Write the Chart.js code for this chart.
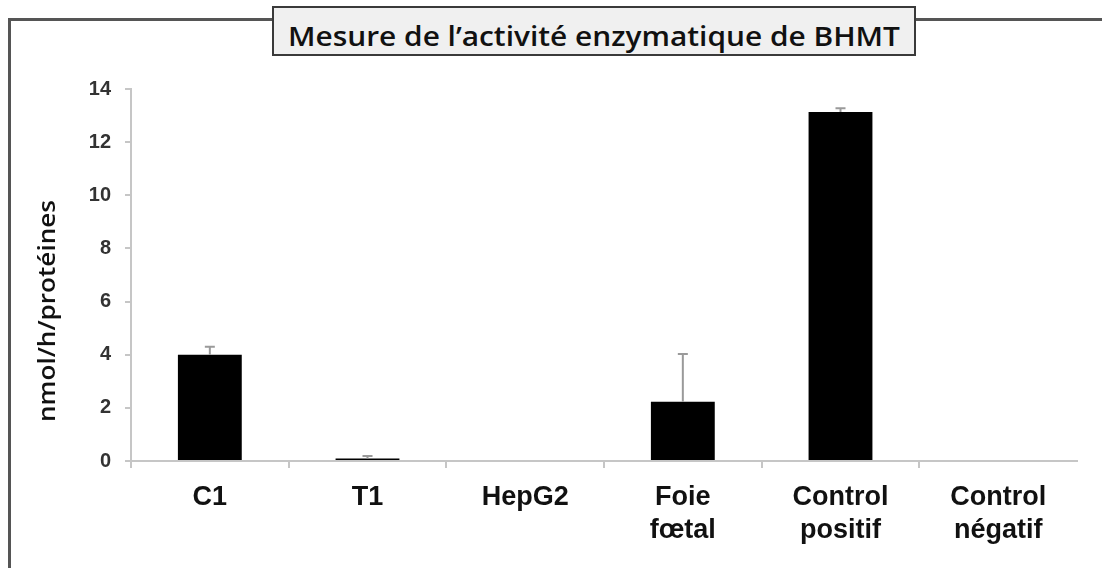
<!DOCTYPE html>
<html>
<head>
<meta charset="utf-8">
<script src="https://cdn.jsdelivr.net/npm/chart.js@4"></script>
<style>
  html, body { margin: 0; padding: 0; background: #fff; }
  #wrap { position: relative; width: 1102px; height: 568px; overflow: hidden; }
  #frame {
    position: absolute; left: 8px; top: 18px; width: 1200px; height: 700px;
    border-top: 3px solid #555; border-left: 3px solid #555;
  }
  #titlebox {
    position: absolute; left: 272px; top: 6px; width: 640px; height: 46px;
    background: #f0f0f0; border: 2px solid #3a3a3a; z-index: 2;
  }
  .fit { position: absolute; white-space: nowrap; transform-origin: 0 0; color: #111; line-height: 1; }
  #title { font: 600 27px "Open Sans", sans-serif; }
  #ytitle { font: 600 24px "Open Sans", sans-serif; }
  canvas { position: absolute; left: 0; top: 0; z-index: 1; }
</style>
</head>
<body>
<div id="wrap">
  <div id="frame"></div>
  <div id="titlebox"></div>
  <div id="title" class="fit" style="z-index:3">Mesure de l’activité enzymatique de BHMT</div>
  <div id="ytitle" class="fit" style="z-index:3">nmol/h/protéines</div>
  <canvas id="c" width="1102" height="568"></canvas>
</div>
<script>
  // data
  const categories = [['C1'], ['T1'], ['HepG2'], ['Foie', 'fœtal'], ['Control', 'positif'], ['Control', 'négatif']];
  const activity = [4.0, 0.09, 0, 2.23, 13.13, 0];
  const errors = [0.3, 0.1, 0, 1.8, 0.15, 0];
  const yTicks = [0, 2, 4, 6, 8, 10, 12, 14];

  const AXIS_GREY = '#c6c6c6';

  // stretch a text element to a given length (px), horizontal or rotated
  function fitText(id, left, top, width, rotate) {
    const el = document.getElementById(id);
    const w = el.getBoundingClientRect().width;
    const s = width / w;
    el.style.left = left + 'px';
    el.style.top = top + 'px';
    if (rotate) {
      el.style.transform = 'translate(0,' + width + 'px) rotate(-90deg) scale(' + s + ',1)';
    } else {
      el.style.transform = 'scale(' + s + ',1)';
    }
  }
  fitText('title', 288, 17, 612, false);
  fitText('ytitle', 29, 200, 222, true);

  const errorBars = {
    id: 'errorBars',
    afterDatasetsDraw(chart) {
      const ctx = chart.ctx;
      const meta = chart.getDatasetMeta(0);
      const y = chart.scales.y;
      ctx.save();
      ctx.strokeStyle = '#9a9a9a';
      ctx.lineWidth = 2;
      meta.data.forEach((bar, i) => {
        if (!errors[i]) return;
        const top = y.getPixelForValue(activity[i] + errors[i]);
        ctx.beginPath();
        ctx.moveTo(bar.x, bar.y);
        ctx.lineTo(bar.x, top);
        ctx.moveTo(bar.x - 5, top);
        ctx.lineTo(bar.x + 5, top);
        ctx.stroke();
      });
      ctx.restore();
    }
  };

  new Chart(document.getElementById('c'), {
    type: 'bar',
    data: {
      labels: categories,
      datasets: [{
        data: activity,
        backgroundColor: '#000',
        borderWidth: 0,
        categoryPercentage: 1,
        barPercentage: 0.405
      }]
    },
    options: {
      responsive: false,
      animation: false,
      layout: { padding: { top: 89, right: 25, left: 0, bottom: 0 } },
      plugins: { legend: { display: false }, tooltip: { enabled: false }, title: { display: false } },
      scales: {
        x: {
          afterFit(scale) { scale.height = 107; },
          grid: {
            offset: true,
            drawOnChartArea: false,
            tickLength: 7,
            lineWidth: 2,
            color: (c) => (c.index === undefined ? 'rgba(0,0,0,0)' : AXIS_GREY)
          },
          border: { color: AXIS_GREY, width: 2 },
          ticks: {
            color: '#111',
            padding: 13,
            maxRotation: 0,
            font: { family: '"Liberation Sans", Arial, sans-serif', size: 27, weight: 'bold', lineHeight: 1.22 }
          }
        },
        y: {
          min: 0,
          max: 14,
          afterFit(scale) { scale.width = 131; },
          afterBuildTicks(scale) { scale.ticks = yTicks.map(v => ({ value: v })); },
          grid: { drawOnChartArea: false, tickLength: 6, lineWidth: 2, color: AXIS_GREY },
          border: { color: AXIS_GREY, width: 2 },
          ticks: {
            color: '#333',
            padding: 14,
            font: { family: '"Liberation Sans", Arial, sans-serif', size: 20, weight: 'bold' }
          }
        }
      }
    },
    plugins: [errorBars]
  });
</script>
</body>
</html>
